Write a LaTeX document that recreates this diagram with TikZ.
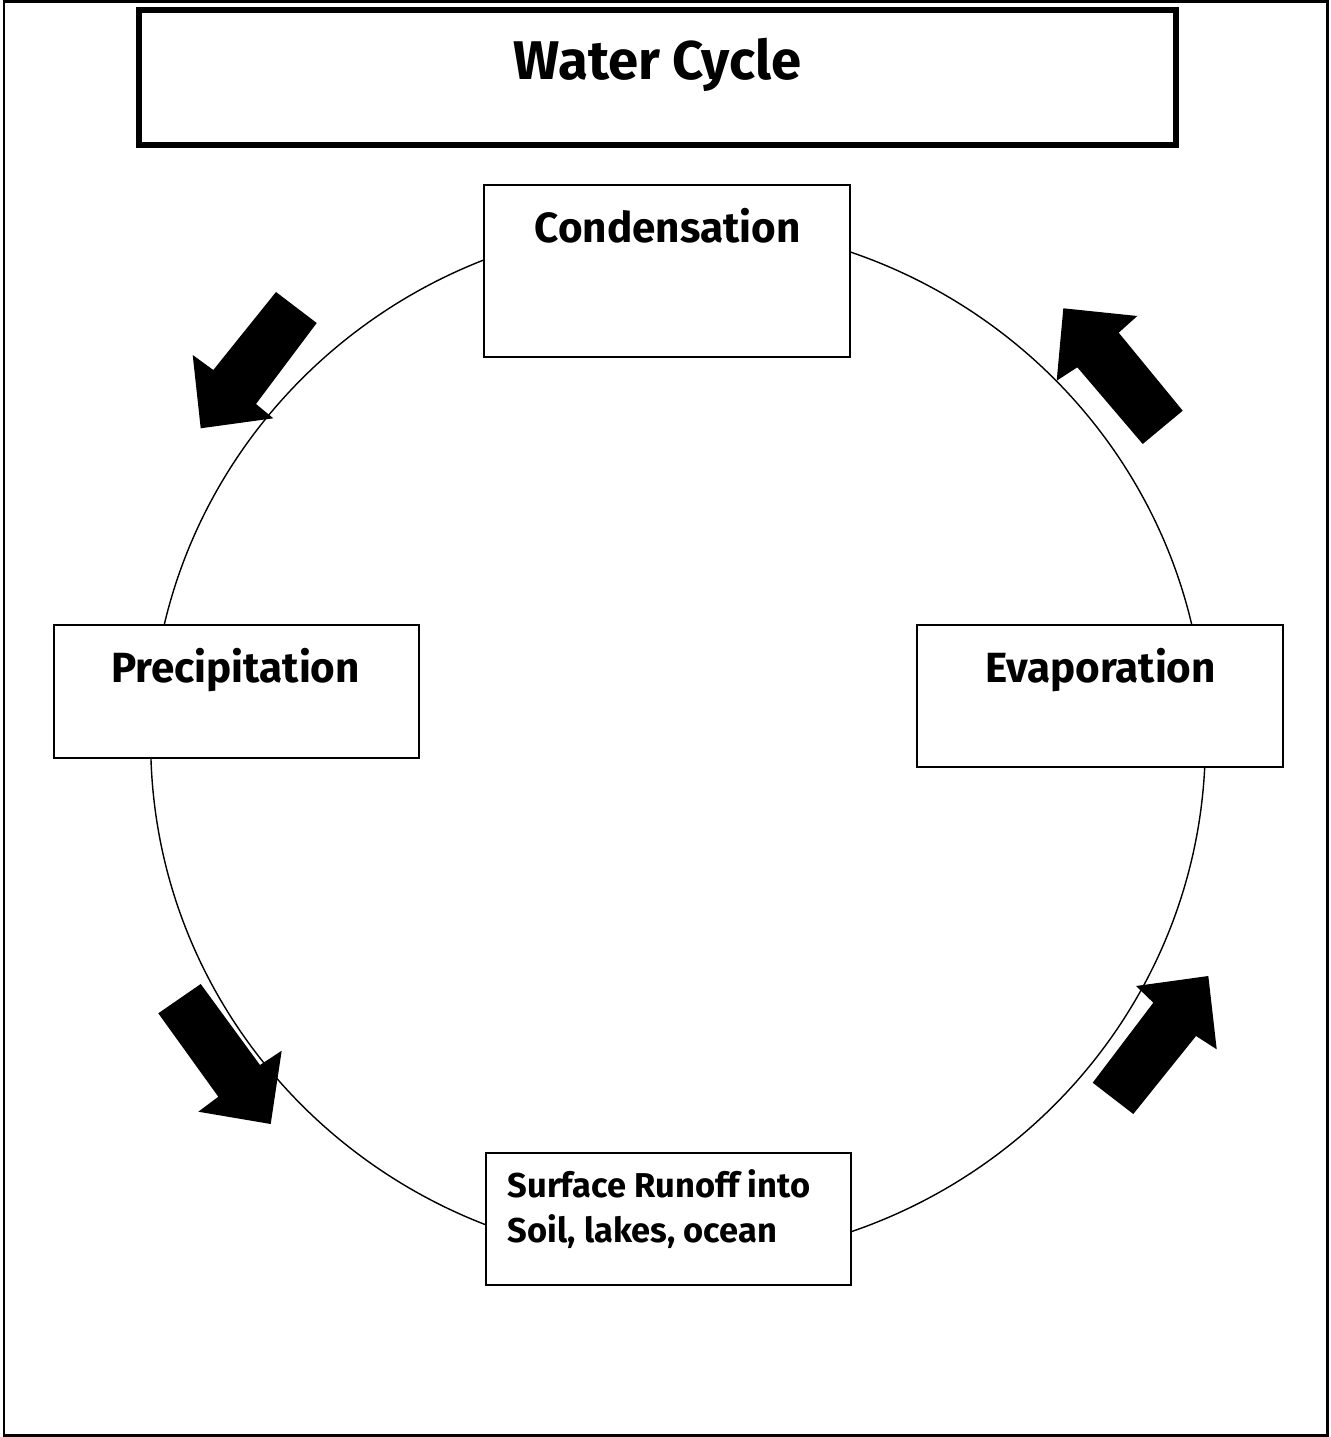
\documentclass[tikz,border=0pt]{standalone}
\usepackage{fontspec}
\setmainfont{Fira Sans}
\begin{document}
\begin{tikzpicture}[x=0.01cm,y=-0.01cm]
		\tikzstyle{stage}=[draw, fill=white, line width=0.6pt, minimum width=3.65cm, inner sep=0pt]
		\tikzstyle{word}=[font=\bfseries\fontsize{12}{14}\selectfont, anchor=base, inner sep=0pt]
		\tikzstyle{fatarrow}=[fill=black]
		
		\useasboundingbox (0,0) rectangle (1331,1437);
		\draw[line width=0.85pt] (4,1.5) rectangle (1327,1435.5);
		
		\node (T) at (657.75,77.4) [draw, line width=1.7pt, minimum width=10.365cm, minimum height=1.342cm] {};
		\node (Tt) at (657.5,80) [word, font=\bfseries\fontsize{15.5}{18}\selectfont] {Water Cycle};
		
		\draw[line width=0.4pt] (678,742) ellipse [x radius=5.27cm, y radius=5.18cm];
		
		\node (C) at (667,271) [stage, minimum height=1.72cm] {};
		\node (P) at (236.5,691.5) [stage, minimum height=1.33cm] {};
		\node (E) at (1100,696) [stage, minimum height=1.42cm] {};
		\node (S) at (668.3,1219) [stage, minimum height=1.32cm] {};
		
		\node (Ct) at (667.5,243) [word] {Condensation};
		\node (Pt) at (235.5,682) [word] {Precipitation};
		\node (Et) at (1100.5,682) [word] {Evaporation};
		\node (St) at (507,1242) [word, anchor=base west, align=left, font=\bfseries\fontsize{9.8}{12.8}\selectfont] {Surface Runoff into\\Soil, lakes, ocean};
		
		\fill[fatarrow] (276,292) -- (316.7,323) -- (256,404) -- (273.3,418.3) -- (200.7,428.3) -- (192.7,355) -- (213.3,370) -- cycle;
		\fill[fatarrow] (1063.3,308.3) -- (1137.3,316) -- (1118.7,332.7) -- (1182.7,410.7) -- (1142.7,444) -- (1077.3,367.3) -- (1056.7,380.7) -- cycle;
		\fill[fatarrow] (158.3,1013.3) -- (200.7,984) -- (260,1065) -- (281.7,1050.7) -- (270.7,1124) -- (198.3,1111.7) -- (218.3,1096.7) -- cycle;
		\fill[fatarrow] (1092.7,1082.7) -- (1133.3,1114) -- (1196,1036) -- (1216.7,1049.3) -- (1208.3,976) -- (1136,986) -- (1153.3,1002.7) -- cycle;
		
\end{tikzpicture}
\end{document}
